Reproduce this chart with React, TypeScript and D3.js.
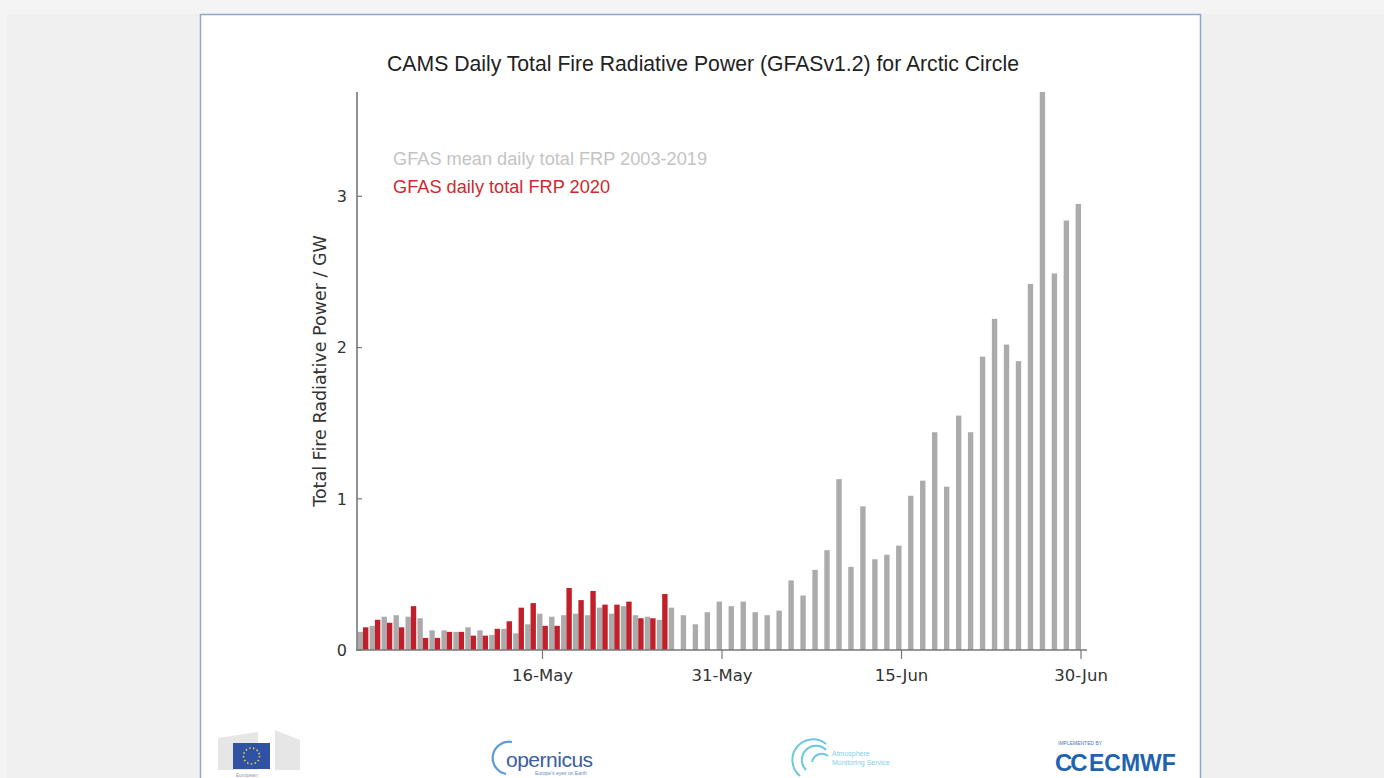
import { useEffect, useRef } from "react"
import * as d3 from "d3"

// 1-May .. 30-Jun 2020, one value per day
const startDate = new Date(2020, 4, 1)

// GFAS mean daily total FRP 2003-2019 (GW)
const meanFrp = [
  0.12, 0.16, 0.22, 0.23, 0.22, 0.21, 0.13, 0.13, 0.12, 0.15,
  0.13, 0.10, 0.14, 0.11, 0.17, 0.24, 0.22, 0.23, 0.24, 0.23,
  0.28, 0.24, 0.29, 0.23, 0.22, 0.20, 0.28, 0.23, 0.17, 0.25,
  0.32, 0.29, 0.32, 0.25, 0.23, 0.26, 0.46, 0.36, 0.53, 0.66,
  1.13, 0.55, 0.95, 0.60, 0.63, 0.69, 1.02, 1.12, 1.44, 1.08,
  1.55, 1.44, 1.94, 2.19, 2.02, 1.91, 2.42, 3.69, 2.49, 2.84,
  2.95,
]

// GFAS daily total FRP 2020 (GW), available up to 26-May
const frp2020 = [
  0.15, 0.20, 0.18, 0.15, 0.29, 0.08, 0.08, 0.12, 0.12, 0.095,
  0.095, 0.14, 0.19, 0.28, 0.31, 0.16, 0.16, 0.41, 0.33, 0.39,
  0.30, 0.30, 0.32, 0.21, 0.21, 0.37,
]

const yTicks = [0, 1, 2, 3]
const xTickDays = [15, 30, 45, 60]

const title = "CAMS Daily Total Fire Radiative Power (GFASv1.2) for Arctic Circle"
const legendMean = "GFAS mean daily total FRP 2003-2019"
const legend2020 = "GFAS daily total FRP 2020"
const yLabel = "Total Fire Radiative Power / GW"

const GREY = "#ababab"
const RED = "#c1202a"
const AXIS = "#777777"

export default function App() {
  const svgRef = useRef<SVGSVGElement>(null)

  useEffect(() => {
    if (!svgRef.current) return
    const svg = d3.select(svgRef.current)
    svg.selectAll("*").remove()

    // page background and panel
    svg.append("rect").attr("width", 1384).attr("height", 778).attr("fill", "#f4f4f4")
    svg.append("rect").attr("x", 7).attr("y", 14).attr("width", 1377).attr("height", 764).attr("fill", "#f0f0f0")
    svg.append("rect")
      .attr("x", 200.5).attr("y", 14.5).attr("width", 1000).attr("height", 780)
      .attr("fill", "#ffffff").attr("stroke", "#8ea9c9").attr("stroke-width", 1.5)

    const x = d3.scaleLinear().domain([-0.5, meanFrp.length - 0.5]).range([357, 1087])
    const y = d3.scaleLinear().domain([0, d3.max(meanFrp) as number]).range([650, 92])
    const bw = (x(1) - x(0)) * 0.45
    const fmt = d3.timeFormat("%d-%b")

    const g = svg.append("g")

    // mean bars (left of the day position)
    g.selectAll("rect.mean")
      .data(meanFrp)
      .join("rect")
      .attr("class", "mean")
      .attr("x", (_, i) => x(i) - bw)
      .attr("width", bw)
      .attr("y", d => y(d))
      .attr("height", d => y(0) - y(d))
      .attr("fill", GREY)

    // 2020 bars (right of the day position)
    g.selectAll("rect.y2020")
      .data(frp2020)
      .join("rect")
      .attr("class", "y2020")
      .attr("x", (_, i) => x(i))
      .attr("width", bw)
      .attr("y", d => y(d))
      .attr("height", d => y(0) - y(d))
      .attr("fill", RED)

    // spines
    g.append("line").attr("x1", 357).attr("x2", 357).attr("y1", 92).attr("y2", 650.5)
      .attr("stroke", AXIS).attr("stroke-width", 1.6)
    g.append("line").attr("x1", 356.2).attr("x2", 1087).attr("y1", 650).attr("y2", 650)
      .attr("stroke", AXIS).attr("stroke-width", 1.6)

    const tickFont = "'DejaVu Sans', sans-serif"

    // y ticks (inward)
    const yt = g.selectAll("g.yt").data(yTicks).join("g").attr("class", "yt")
      .attr("transform", d => `translate(357,${y(d)})`)
    yt.append("line").attr("x2", 5).attr("stroke", AXIS).attr("stroke-width", 1.2)
    yt.append("text").attr("x", -10).attr("dy", "0.36em").attr("text-anchor", "end")
      .attr("font-family", tickFont).attr("font-size", 16).attr("fill", "#333")
      .text(d => String(d))

    // x ticks (outward)
    const xt = g.selectAll("g.xt").data(xTickDays).join("g").attr("class", "xt")
      .attr("transform", d => `translate(${x(d)},650)`)
    xt.append("line").attr("y2", 9).attr("stroke", AXIS).attr("stroke-width", 1.2)
    xt.append("text").attr("y", 31).attr("text-anchor", "middle")
      .attr("font-family", tickFont).attr("font-size", 16.5).attr("fill", "#333")
      .text(d => fmt(d3.timeDay.offset(startDate, d)))

    // y label
    svg.append("text")
      .attr("transform", "translate(326,371) rotate(-90)")
      .attr("text-anchor", "middle")
      .attr("font-family", tickFont).attr("font-size", 17.5).attr("fill", "#333")
      .text(yLabel)

    // title
    svg.append("text").attr("x", 703).attr("y", 71).attr("text-anchor", "middle")
      .attr("font-family", "'Liberation Sans', Arial, sans-serif").attr("font-size", 21.2)
      .attr("fill", "#222").text(title)

    // legend
    svg.append("text").attr("x", 393).attr("y", 165)
      .attr("font-family", "'Liberation Sans', Arial, sans-serif").attr("font-size", 18.2)
      .attr("fill", "#c4c4c4").text(legendMean)
    svg.append("text").attr("x", 393).attr("y", 193)
      .attr("font-family", "'Liberation Sans', Arial, sans-serif").attr("font-size", 18.2)
      .attr("fill", "#cc2a2f").text(legend2020)

    // ---- logos (rough) ----
    const logos = svg.append("g").attr("font-family", "'Liberation Sans', Arial, sans-serif")
    // European Commission
    logos.append("path").attr("d", "M218,738 L258,732 L258,770 L218,770 Z").attr("fill", "#e6e6e6")
    logos.append("path").attr("d", "M275,730 L300,740 L300,770 L275,770 Z").attr("fill", "#e6e6e6")
    logos.append("rect").attr("x", 233).attr("y", 743).attr("width", 37).attr("height", 26).attr("fill", "#2f52a3")
    logos.append("circle").attr("cx", 251.5).attr("cy", 756).attr("r", 8)
      .attr("fill", "none").attr("stroke", "#e8d24a").attr("stroke-width", 1.6).attr("stroke-dasharray", "1.5 2.4")
    logos.append("text").attr("x", 236).attr("y", 777).attr("font-size", 5).attr("fill", "#999").text("European")

    // Copernicus
    logos.append("path").attr("d", "M512,742 A16,16 0 1,0 506,774").attr("fill", "none")
      .attr("stroke", "#5d9ad0").attr("stroke-width", 2.2)
    logos.append("text").attr("x", 506).attr("y", 767).attr("font-size", 21).attr("fill", "#3b5da0")
      .attr("letter-spacing", "-0.5").text("opernicus")
    logos.append("text").attr("x", 535).attr("y", 775).attr("font-size", 5).attr("fill", "#6b8cc0")
      .text("Europe's eyes on Earth")

    // CAMS
    const cams = logos.append("g").attr("fill", "none").attr("stroke", "#6cc7e3").attr("stroke-width", 2)
    cams.append("path").attr("d", "M800,776 A18,18 0 0,1 826,744")
    cams.append("path").attr("d", "M806,770 A14,14 0 0,1 826,750")
    cams.append("path").attr("d", "M812,762 A10,10 0 0,1 828,756")
    logos.append("text").attr("x", 832).attr("y", 756).attr("font-size", 7).attr("fill", "#7fd0e8").text("Atmosphere")
    logos.append("text").attr("x", 832).attr("y", 765).attr("font-size", 7).attr("fill", "#7fd0e8").text("Monitoring Service")

    // ECMWF
    logos.append("text").attr("x", 1058).attr("y", 745).attr("font-size", 5).attr("fill", "#4a78b8").text("IMPLEMENTED BY")
    logos.append("text").attr("x", 1055).attr("y", 771).attr("font-size", 24).attr("font-weight", "bold")
      .attr("fill", "#1f62ad").attr("letter-spacing", "-2").text("CC")
    logos.append("text").attr("x", 1089).attr("y", 771).attr("font-size", 23).attr("font-weight", "bold")
      .attr("fill", "#1f62ad").text("ECMWF")
  }, [])

  return (
    <div style={{ position: "fixed", left: 0, top: 0, width: 1384, height: 778, overflow: "hidden" }}>
      <svg ref={svgRef} width={1384} height={778} style={{ display: "block" }} />
    </div>
  )
}
